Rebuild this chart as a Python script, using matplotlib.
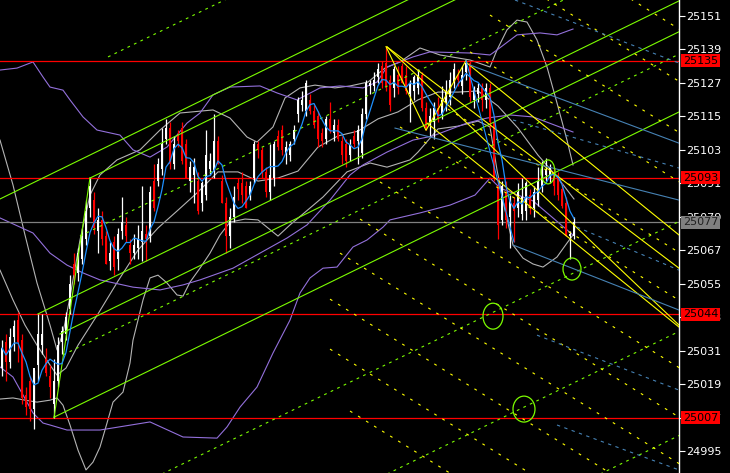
import numpy as np
import pandas as pd
import matplotlib
matplotlib.use("Agg")
import matplotlib.pyplot as plt
import matplotlib.transforms as mtransforms
from matplotlib.patches import Ellipse

# --- candles (one per bar) ---
opens = [25025, 25034, 25027, 25036, 25042, 25035, 25015, 25020, 25010, 25026,
         25033, 25028, 25022, 25012, 25020, 25034, 25037, 25046, 25062, 25059,
         25064, 25071, 25082, 25085, 25074, 25078, 25072, 25063, 25070, 25064,
         25074, 25076, 25069, 25066, 25068, 25070, 25073, 25072, 25092, 25092,
         25096, 25107, 25111, 25098, 25108, 25111, 25105, 25092, 25094, 25092,
         25084, 25087, 25096, 25095, 25106, 25092, 25084, 25072, 25079, 25091,
         25091, 25090, 25087, 25093, 25105, 25103, 25095, 25088, 25093, 25108,
         25110, 25102, 25101, 25107, 25116, 25119, 25117, 25121, 25117, 25115,
         25109, 25107, 25114, 25109, 25112, 25106, 25105, 25101, 25108, 25106,
         25102, 25116, 25126, 25126, 25129, 25133, 25134, 25128, 25125, 25130,
         25133, 25130, 25123, 25124, 25125, 25130, 25118, 25113, 25113, 25118,
         25116, 25120, 25122, 25127, 25130, 25126, 25131, 25134, 25121, 25123,
         25125, 25121, 25125, 25113, 25090, 25078, 25088, 25079, 25084, 25082,
         25080, 25081, 25087, 25082, 25085, 25090, 25094, 25093, 25095, 25093,
         25089, 25084, 25072, 25072]
highs = [25035, 25037, 25039, 25042, 25045, 25037, 25018, 25022, 25024, 25044,
         25044, 25032, 25026, 25028, 25036, 25040, 25045, 25058, 25066, 25068,
         25075, 25085, 25093, 25088, 25082, 25081, 25074, 25070, 25072, 25075,
         25086, 25079, 25071, 25073, 25076, 25090, 25076, 25090, 25098, 25100,
         25111, 25114, 25113, 25108, 25110, 25113, 25107, 25099, 25100, 25095,
         25092, 25110, 25102, 25116, 25108, 25094, 25086, 25082, 25090, 25093,
         25095, 25092, 25092, 25106, 25106, 25104, 25097, 25105, 25106, 25110,
         25112, 25106, 25106, 25112, 25122, 25124, 25128, 25123, 25119, 25117,
         25111, 25115, 25120, 25114, 25114, 25108, 25107, 25107, 25110, 25112,
         25118, 25128, 25128, 25131, 25134, 25135, 25140, 25130, 25133, 25133,
         25134, 25133, 25128, 25130, 25132, 25131, 25120, 25118, 25120, 25122,
         25126, 25128, 25131, 25134, 25132, 25133, 25135, 25135, 25126, 25127,
         25127, 25127, 25127, 25115, 25093, 25092, 25092, 25087, 25086, 25091,
         25093, 25092, 25089, 25090, 25097, 25099, 25100, 25098, 25097, 25095,
         25091, 25086, 25074, 25079]
lows = [25022, 25020, 25025, 25031, 25027, 25012, 25008, 25006, 25003, 25020,
        25030, 25022, 25014, 25007, 25018, 25030, 25035, 25044, 25055, 25056,
        25062, 25069, 25079, 25073, 25066, 25069, 25062, 25060, 25058, 25060,
        25071, 25070, 25062, 25064, 25064, 25063, 25063, 25070, 25081, 25090,
        25094, 25105, 25096, 25096, 25104, 25098, 25093, 25088, 25084, 25080,
        25081, 25085, 25094, 25093, 25098, 25084, 25066, 25068, 25077, 25085,
        25084, 25082, 25085, 25091, 25100, 25093, 25086, 25085, 25090, 25103,
        25101, 25098, 25099, 25105, 25113, 25117, 25115, 25116, 25111, 25104,
        25104, 25105, 25109, 25106, 25106, 25098, 25097, 25099, 25104, 25098,
        25100, 25114, 25123, 25124, 25127, 25125, 25124, 25117, 25122, 25123,
        25127, 25123, 25113, 25121, 25123, 25117, 25110, 25108, 25107, 25113,
        25114, 25117, 25119, 25125, 25126, 25123, 25128, 25120, 25118, 25120,
        25117, 25118, 25111, 25092, 25071, 25076, 25075, 25068, 25070, 25079,
        25078, 25078, 25080, 25079, 25083, 25088, 25092, 25091, 25087, 25085,
        25082, 25072, 25064, 25071]
closes = [25032, 25027, 25036, 25040, 25034, 25014, 25011, 25010, 25025, 25037,
          25037, 25023, 25018, 25020, 25033, 25038, 25043, 25055, 25058, 25066,
          25072, 25081, 25090, 25075, 25078, 25071, 25062, 25066, 25061, 25073,
          25077, 25072, 25066, 25069, 25071, 25074, 25071, 25088, 25082, 25098,
          25105, 25111, 25098, 25105, 25106, 25099, 25093, 25097, 25097, 25081,
          25091, 25101, 25099, 25106, 25098, 25084, 25072, 25079, 25086, 25089,
          25087, 25082, 25090, 25105, 25103, 25095, 25088, 25094, 25105, 25104,
          25103, 25104, 25105, 25110, 25121, 25121, 25127, 25117, 25112, 25107,
          25106, 25114, 25110, 25112, 25107, 25101, 25099, 25105, 25105, 25110,
          25116, 25127, 25127, 25128, 25132, 25127, 25126, 25119, 25132, 25125,
          25127, 25124, 25127, 25129, 25130, 25118, 25111, 25115, 25118, 25114,
          25121, 25124, 25128, 25132, 25128, 25130, 25134, 25122, 25125, 25125,
          25121, 25125, 25113, 25093, 25076, 25090, 25078, 25085, 25081, 25088,
          25086, 25091, 25083, 25088, 25092, 25096, 25096, 25097, 25090, 25087,
          25083, 25072, 25073, 25077]

# --- gray bands (bar, price) ---
gu_bar = [-0.5, 2.75, 5.75, 8.75, 12, 13.75, 15.25, 17, 19.5, 22, 24.5, 28.75, 34.5, 39.5,
          44.5, 52.75, 57, 61.25, 63.75, 67.75, 70.75, 74.5, 78.25, 83.25, 87, 91.5, 95.75,
          99.5, 104.5, 109.5, 117, 122, 123.75, 126.25, 128.75, 131.25, 133.75, 136.25,
          138.75, 141.25, 142.75]
gu_price = [25106.5, 25090.4, 25072.5, 25055.3, 25040.2, 25031.3, 25037.4, 25050.3, 25070.7,
            25086.8, 25094.0, 25099.4, 25103.0, 25110.1, 25116.2, 25117.3, 25114.4, 25107.6,
            25105.8, 25111.2, 25121.6, 25125.2, 25126.2, 25125.2, 25125.9, 25127.3, 25132.3,
            25134.5, 25139.5, 25137.0, 25135.2, 25132.7, 25138.8, 25146.0, 25149.5, 25148.8,
            25142.4, 25132.7, 25119.8, 25106.5, 25097.6]
gm_bar = [-0.5, 2.75, 5.75, 8.75, 12, 13.75, 16, 19, 24, 29, 34, 39, 44, 49, 54, 59, 64, 69,
          74, 79, 84, 89, 94, 99, 104, 109, 114, 119, 124, 129, 134, 139, 143]
gm_price = [25059.9, 25049.2, 25040.2, 25033.0, 25025.9, 25022.3, 25024.8, 25033.0, 25044.2,
            25056.0, 25067.1, 25075.0, 25081.4, 25087.9, 25095.1, 25095.1, 25091.8, 25092.9,
            25095.4, 25104.0, 25108.0, 25109.7, 25114.1, 25116.6, 25120.9, 25123.7, 25123.7,
            25124.1, 25118.7, 25110.8, 25101.1, 25092.9, 25085.4]
gl_bar = [-0.5, 2.75, 5.75, 8.75, 12, 13.75, 15.25, 17, 19, 21, 22.75, 24.5, 26.25, 27.75,
          30.25, 32, 32.75, 34, 35.25, 37, 39, 41.25, 43.75, 45.25, 47, 49.5, 52, 54.5, 57,
          60.75, 64, 69, 72, 80.25, 86.25, 92, 96.25, 102, 104, 109, 114, 119, 122, 123.75,
          125.75, 127.75, 130.25, 132.75, 135.25, 138.75, 141.25, 142.75]
gl_price = [25013.7, 25014.1, 25013.3, 25012.6, 25013.3, 25014.1, 25011.5, 25004.4, 24995.4,
            24988.3, 24991.1, 24996.5, 25005.1, 25012.6, 25016.2, 25026.6, 25034.8, 25042.0,
            25049.2, 25057.1, 25058.1, 25055.3, 25051.0, 25050.6, 25055.6, 25060.6, 25066.0,
            25072.5, 25077.1, 25078.2, 25077.9, 25072.1, 25076.1, 25086.1, 25095.1, 25098.3,
            25096.8, 25099.4, 25102.2, 25110.5, 25111.5, 25113.3, 25111.2, 25095.8, 25081.4,
            25068.9, 25064.2, 25062.1, 25061.0, 25064.6, 25069.6, 25072.5]

# --- purple bands (bar, price) ---
pu_bar = [-0.5, 3.75, 7.75, 10.25, 12, 15.25, 17, 20.25, 23.75, 29.5, 32.75, 37, 41.25, 46.25,
          49.5, 52.75, 57, 64.5, 68.75, 73.75, 79.5, 84.5, 90.25, 93.75, 96.25, 102.75, 107,
          117, 122, 123.75, 128.75, 134.5, 138.75, 142.75]
pu_price = [25131.6, 25132.3, 25134.5, 25129.1, 25125.5, 25124.4, 25120.9, 25114.8, 25110.1,
            25108.3, 25103.0, 25100.4, 25104.0, 25112.6, 25116.2, 25122.7, 25125.5, 25125.9,
            25123.4, 25120.9, 25125.2, 25125.9, 25125.2, 25127.3, 25132.7, 25136.3, 25138.1,
            25137.7, 25137.0, 25138.8, 25144.2, 25144.9, 25144.2, 25146.3]
pm_bar = [-0.5, 7.75, 12, 16.25, 20.25, 24.5, 32.75, 39.5, 45.25, 49.5, 57.75, 64.5, 71.25,
          76.25, 82, 87, 90.25, 96.25, 102.75, 107.75, 116.25, 121.25, 127, 132.75, 142.75]
pm_price = [25078.6, 25073.2, 25066.0, 25061.7, 25058.9, 25056.4, 25053.8, 25052.8, 25054.6,
            25056.4, 25060.6, 25066.0, 25071.4, 25076.1, 25085.0, 25094.0, 25097.6, 25102.2,
            25106.5, 25108.0, 25112.6, 25114.4, 25115.5, 25114.8, 25109.4]
pl_bar = [-0.5, 2.75, 7.75, 10.25, 12, 16.25, 24.5, 37, 45.25, 53.75, 56.25, 59.5, 63.75,
          67.75, 72, 74.5, 77, 80.25, 83.75, 87.75, 91.25, 95.25, 97, 104.5, 112, 118.25, 122,
          124.5, 132.75, 142.75]
pl_price = [25025.2, 25021.6, 25008.7, 25005.1, 25004.4, 25002.6, 25002.6, 25005.5, 25000.1,
            24999.7, 25003.7, 25010.8, 25018.0, 25030.2, 25042.0, 25051.7, 25057.1, 25060.6,
            25061.0, 25068.2, 25070.7, 25075.3, 25077.9, 25080.4, 25083.2, 25086.8, 25092.9,
            25089.3, 25084.7, 25072.5]

# --- levels and axis ---
price_ticks = [25151, 25139, 25127, 25115, 25103, 25091, 25079, 25067, 25055, 25043,
               25031, 25019, 25007, 24995]
red_levels = [25135, 25093, 25044, 25007]
bid_level = 25077

# --- drawn objects (start bar, start price), slopes in price per bar ---
green_slope = 0.70
green_solid = [(-0.5, 25085.4), (22, 25092.9), (9, 25044.2), (14.5, 25037.0), (13, 25007.2)]
green_dashed = [(26.5, 25136.3), (19.5, 25072.1), (15.25, 25029.5), (-0.5, 24958.5),
                (-0.5, 24919.1), (-0.5, 24881.8)]
rally_pivots = [13, 22]

yellow_slope = -0.89
yellow_dashed = [(149.5, 25163.9), (134.5, 25158.5), (122, 25151.3), (117, 25138.1),
                 (109.5, 25119.4), (99.5, 25111.2), (94.5, 25091.5), (89.5, 25078.2),
                 (84.5, 25066.0), (82, 25049.5), (82, 25031.6), (87, 25009.4)]
yellow_solid = [((96.25, 25139.9), (169.25, 25040.2)),
                ((116.25, 25134.1), (169.25, 25072.5)),
                ((96.25, 25139.9), (169.25, 25060.6)),
                ((106.25, 25112.6), (169.25, 25039.5))]
zigzag_bars = [96, 106, 116]

blue_solid = [((117, 25133.4), (169.25, 25105.4)),
              ((98.25, 25110.8), (169.25, 25085.0)),
              ((127.75, 25068.9), (169.25, 25045.6))]
blue_dashed = [((128.25, 25156.7), (169.25, 25134.1)),
               ((127.75, 25113.7), (169.25, 25096.5)),
               ((143.75, 25075.3), (169.25, 25059.9)),
               ((133.75, 25036.6), (169.25, 25016.9)),
               ((138.75, 25004.4), (169.25, 24988.3))]
blue_steep = [116, 128]

# circles: centre bar, centre price, width in bars, height in price
circles = [(122.75, 25043.4, 5.0, 9.3), (142.5, 25060.3, 4.5, 7.9),
           (130.5, 25010.1, 5.5, 9.3), (136.5, 25095.1, 3.5, 8.6)]

LIME = '#7cfc00'
YEL = '#ffff00'
STEEL = '#4682b4'
DODGER = '#1e90ff'
SILVER = '#b4b4b4'
PURPLE = '#9370db'
X_END = 175


def ray(ax, b0, p0, slope, **kw):
    xs = np.array([b0, X_END])
    ax.plot(xs, p0 + slope * (xs - b0), **kw)


def main():
    fig = plt.figure(figsize=(7.3, 4.73), dpi=100, facecolor='black')
    ax = fig.add_axes([0, 0, 679 / 730, 1])
    ax.set_facecolor('black')
    ax.set_xlim(-0.5, 169.25)
    ax.set_ylim(24987.2, 25156.7)

    o = np.array(opens)
    h = np.array(highs)
    l = np.array(lows)
    c = np.array(closes)
    idx = np.arange(len(c))

    # bands
    ax.plot(gu_bar, gu_price, color=SILVER, lw=0.8, zorder=2)
    ax.plot(gm_bar, gm_price, color=SILVER, lw=0.8, zorder=2)
    ax.plot(gl_bar, gl_price, color=SILVER, lw=0.8, zorder=2)
    ax.plot(pu_bar, pu_price, color=PURPLE, lw=0.8, zorder=2)
    ax.plot(pm_bar, pm_price, color=PURPLE, lw=0.8, zorder=2)
    ax.plot(pl_bar, pl_price, color=PURPLE, lw=0.8, zorder=2)

    # horizontal levels
    for lv in red_levels:
        ax.axhline(lv, color='red', lw=0.9, zorder=2)
    ax.axhline(bid_level, color='#808080', lw=0.9, zorder=2)

    # green channel
    for b0, p0 in green_solid:
        ray(ax, b0, p0, green_slope, color=LIME, lw=0.8, zorder=4)
    for b0, p0 in green_dashed:
        ray(ax, b0, p0, green_slope, color=LIME, lw=0.8, ls=(0, (2.5, 4)), zorder=4)
    ax.plot(rally_pivots, [l[rally_pivots[0]], h[rally_pivots[1]]], color=LIME, lw=0.8, zorder=4)

    # yellow fan
    for b0, p0 in yellow_dashed:
        ray(ax, b0, p0, yellow_slope, color=YEL, lw=0.8, ls=(0, (2.5, 6)), zorder=4)
    for (b0, p0), (b1, p1) in yellow_solid:
        ax.plot([b0, b1], [p0, p1], color=YEL, lw=0.8, zorder=4)
    zz = [h[zigzag_bars[0]], l[zigzag_bars[1]], h[zigzag_bars[2]]]
    ax.plot(zigzag_bars, zz, color=YEL, lw=0.8, zorder=4)

    # steel blue lines
    for (b0, p0), (b1, p1) in blue_solid:
        ax.plot([b0, b1], [p0, p1], color=STEEL, lw=0.8, zorder=4)
    for (b0, p0), (b1, p1) in blue_dashed:
        ax.plot([b0, b1], [p0, p1], color=STEEL, lw=0.8, ls=(0, (3, 4)), zorder=4)
    ax.plot(blue_steep, [h[blue_steep[0]], l[blue_steep[1]]], color=DODGER, lw=0.8, zorder=4)

    # candles
    up = c >= o
    colors = np.where(up, 'white', 'red')
    ax.vlines(idx, l, h, colors=colors, lw=0.9, zorder=3)
    body = np.maximum(np.abs(c - o), 0.4)
    ax.bar(idx, body, bottom=np.minimum(o, c), width=0.72, color=colors, lw=0, zorder=3)

    # moving average
    ma = pd.Series(c).rolling(5, min_periods=1).mean()
    ax.plot(idx, ma, color=DODGER, lw=0.9, zorder=5)

    # circles
    for bx, py, w, hh in circles:
        ax.add_patch(Ellipse((bx, py), w, hh, fill=False, ec=LIME, lw=0.9, zorder=5))

    # axis styling
    for s in ['top', 'left', 'bottom']:
        ax.spines[s].set_visible(False)
    ax.spines['right'].set_color('white')
    ax.spines['right'].set_linewidth(1.0)
    ax.set_xticks([])
    ax.yaxis.tick_right()
    ax.set_yticks(price_ticks)
    ax.set_yticklabels([str(t) for t in price_ticks])
    ax.tick_params(axis='y', colors='white', labelcolor='white', length=4, width=0.8,
                   labelsize=8, pad=1)

    trans = mtransforms.blended_transform_factory(ax.transAxes, ax.transData)
    for lv in red_levels:
        ax.text(1.006, lv, str(lv), transform=trans, va='center', ha='left', fontsize=8,
                color='black', zorder=10, clip_on=False,
                bbox=dict(boxstyle='square,pad=0.15', fc='red', ec='none'))
    ax.text(1.006, bid_level, str(bid_level), transform=trans, va='center', ha='left',
            fontsize=8, color='#202020', zorder=10, clip_on=False,
            bbox=dict(boxstyle='square,pad=0.15', fc='#808080', ec='none'))

    fig.savefig('out.png', dpi=100, facecolor='black')


if __name__ == '__main__':
    main()
